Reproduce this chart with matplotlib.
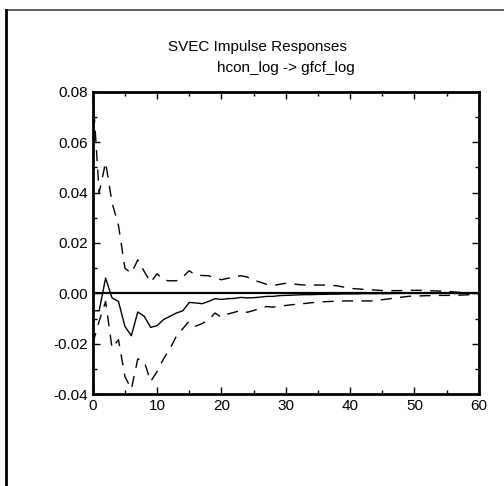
import matplotlib
matplotlib.use("Agg")
import matplotlib.pyplot as plt
from matplotlib.ticker import MultipleLocator, FormatStrFormatter
import numpy as np

# impulse response hcon_log -> gfcf_log, horizons 0..60
horizon = np.arange(61)
irf = [-0.0069, -0.0069, 0.0061, -0.0018, -0.0032, -0.0131, -0.0168, -0.0074, -0.0091, -0.0135,
       -0.0128, -0.0104, -0.0091, -0.0078, -0.0069, -0.0036, -0.0038, -0.0041, -0.0032, -0.0021,
       -0.0024, -0.0021, -0.0020, -0.0016, -0.0018, -0.0017, -0.0015, -0.0012, -0.0012, -0.0009,
       -0.0008, -0.0007, -0.0006, -0.0005, -0.0005, -0.0004, -0.0004, -0.0003, -0.0003, -0.0002,
       -0.0002, -0.0002, -0.0001, -0.0001, -0.0001, -0.0001, -0.0001, 0.0000, 0.0000, 0.0000,
       0.0000, 0.0000, 0.0000, 0.0000, 0.0000, 0.0000, 0.0000, 0.0000, 0.0000, 0.0000, 0.0000]
upper = [0.080, 0.040, 0.052, 0.036, 0.027, 0.010, 0.008, 0.0133, 0.0087, 0.0044,
         0.0078, 0.0052, 0.0050, 0.0050, 0.0065, 0.0090, 0.0072, 0.0071, 0.0070, 0.0062,
         0.0054, 0.0060, 0.0065, 0.0070, 0.0065, 0.0052, 0.0045, 0.0036, 0.0031, 0.0036,
         0.0040, 0.0038, 0.0035, 0.0033, 0.0033, 0.0033, 0.0033, 0.0032, 0.0030, 0.0025,
         0.0020, 0.0018, 0.0016, 0.0015, 0.0013, 0.0011, 0.0011, 0.0011, 0.0011, 0.0012,
         0.0012, 0.0012, 0.0011, 0.0010, 0.0009, 0.0008, 0.0006, 0.0004, 0.0002, 0.0001, 0.0000]
lower = [-0.0200, -0.0110, -0.0032, -0.0217, -0.0184, -0.0330, -0.0380, -0.0260, -0.0270, -0.0350,
         -0.0310, -0.0260, -0.0220, -0.0170, -0.0140, -0.0110, -0.0130, -0.0120, -0.0105, -0.0078,
         -0.0095, -0.0082, -0.0075, -0.0068, -0.0075, -0.0068, -0.0060, -0.0052, -0.0055, -0.0050,
         -0.0048, -0.0045, -0.0042, -0.0040, -0.0037, -0.0035, -0.0033, -0.0032, -0.0031, -0.0030,
         -0.0030, -0.0030, -0.0030, -0.0030, -0.0029, -0.0025, -0.0022, -0.0018, -0.0015, -0.0012,
         -0.0010, -0.0010, -0.0009, -0.0009, -0.0008, -0.0008, -0.0008, -0.0007, -0.0006, -0.0005, -0.0005]

plt.rcParams['font.family'] = ['Liberation Sans', 'DejaVu Sans']

fig = plt.figure(figsize=(5.04, 4.86), dpi=100)
ax = fig.add_axes([0.184, 0.189, 0.766, 0.622])

ax.axhline(0, color='black', lw=1.6, zorder=1)
ax.plot(horizon, irf, color='black', lw=1.0)
ax.plot(horizon, upper, color='black', lw=1.0, dashes=(8, 6))
ax.plot(horizon, lower, color='black', lw=1.0, dashes=(8, 6))

ax.set_xlim(0, 60)
ax.set_ylim(-0.04, 0.08)
ax.xaxis.set_major_locator(MultipleLocator(10))
ax.xaxis.set_minor_locator(MultipleLocator(5))
ax.yaxis.set_major_locator(MultipleLocator(0.02))
ax.yaxis.set_minor_locator(MultipleLocator(0.01))
ax.yaxis.set_major_formatter(FormatStrFormatter('%.2f'))
ax.tick_params(which='both', direction='in', top=True, right=True, labelsize=11, width=1)
ax.tick_params(which='major', length=5)
ax.tick_params(which='minor', length=3)
for s in ax.spines.values():
    s.set_linewidth(2)

fig.text(0.511, 0.903, 'SVEC Impulse Responses', ha='center', va='center', fontsize=11)
fig.text(0.568, 0.860, 'hcon_log -> gfcf_log', ha='center', va='center', fontsize=11)

# outer frame: top and left edges only
fig.add_artist(plt.Line2D([0.012, 1.0], [0.979, 0.979], color='#444444', lw=1.2, transform=fig.transFigure))
fig.add_artist(plt.Line2D([0.012, 0.012], [0.0, 0.979], color='black', lw=2, transform=fig.transFigure))

fig.savefig('out.png', dpi=100)
